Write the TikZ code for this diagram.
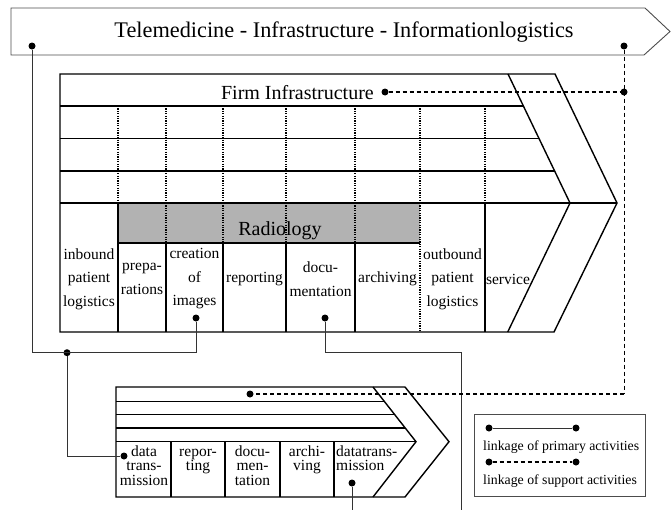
\documentclass[tikz,border=0pt]{standalone}
\usepackage{fontspec}
\setmainfont{Liberation Serif}
\usetikzlibrary{positioning}
\newcommand{\firstln}{\rule{0pt}{11pt}}% <--- same top for every small label

\begin{document}
\begin{tikzpicture}[x=1pt,y=-1pt,
    chain/.style={line width=1.4pt,line join=miter},
    frame/.style={draw=black!70,line width=0.9pt},
    dot/.style={circle,fill=black,inner sep=0pt,minimum size=7pt},
    link/.style={draw=black!80,line width=0.9pt},
    supp/.style={dashed,dash pattern=on 4pt off 3pt,line width=1.3pt},
    sep/.style={dotted,dash pattern=on 1.2pt off 1.2pt,line width=1.1pt},
    lbl/.style={font=\fontsize{15.5}{23.5}\selectfont,align=center,inner sep=0pt},
    slbl/.style={font=\fontsize{15.5}{14.5}\selectfont,align=center,inner sep=0pt,anchor=north}]
  \useasboundingbox (0,0) rectangle (671,514);

  % banner on top
  \draw[frame] (11,8) -- (645,8) -- (670,31.5) -- (644,55) -- (11,55) -- cycle;
  \node[font=\fontsize{22.3}{26}\selectfont,anchor=base] (title) at (344,37)
    {Telemedicine - Infrastructure - Informationlogistics};

  % main value chain
  \fill[gray!60] (118,203) rectangle (420,243);
  \draw[chain] (60,74) -- (555,74) -- (617,203) -- (554,332) -- (60,332) -- cycle;
  \draw[chain] (508,74) -- (570,203) -- (507.7,332);
  \draw[chain] (60,106) -- (523.4,106);
  \draw[chain] (60,138.5) -- (539,138.5);
  \draw[chain] (60,171) -- (554.6,171);
  \draw[chain] (60,203) -- (617,203);
  \draw[chain] (118,243) -- (420,243);
  \foreach \x in {118,166,223,286,355,420,485}
    \draw[sep] (\x,106) -- (\x,203);
  \foreach \x in {166,223,286,355}
    \draw[sep] (\x,203) -- (\x,243);
  \draw[sep] (420,203) -- (420,332);
  \foreach \x in {166,223,286,355}
    \draw[chain] (\x,243) -- (\x,332);
  \draw[chain] (118,203) -- (118,332);
  \draw[chain] (485,203) -- (485,332);

  \node[font=\fontsize{20}{24}\selectfont,anchor=base east,inner sep=0pt] (firm) at (374,99) {Firm Infrastructure};
  \node[font=\fontsize{20}{24}\selectfont,anchor=base,inner sep=0pt] (radio) at (280,235) {Radiology};

  % primary activities
  \node[lbl] (inb) at (89,279) {inbound\\patient\\logistics};
  \node[lbl] (prep) at (142,279) {prepa-\\rations};
  \node[lbl] (crea) at (194.5,279) {creation\\of\\images};
  \node[lbl] (rep) at (254.5,279) {reporting};
  \node[lbl] (doc) at (320.5,279) {docu-\\mentation};
  \node[lbl] (arch) at (387.5,279) {archiving};
  \node[lbl] (outb) at (452.5,279) {outbound\\patient\\logistics};
  \node[lbl] (serv) at (508,279) {service};

  % small value chain
  \draw[chain] (116,387) -- (405,387) -- (449,441.7) -- (405,497) -- (116,497) -- cycle;
  \draw[chain] (373,387) -- (416,441.7) -- (373,497);
  \draw[chain] (116,401.7) -- (384.6,401.7);
  \draw[chain] (116,414.7) -- (394.8,414.7);
  \draw[chain] (116,428) -- (405.2,428);
  \draw[chain] (116,441.7) -- (416,441.7);
  \foreach \x in {171,225,280,334}
    \draw[chain] (\x,441.7) -- (\x,497);

  \node[slbl] (sdat) at (144,445) {\firstln data\\trans-\\mission};
  \node[slbl] (srep) at (198,445) {\firstln repor-\\ting};
  \node[slbl] (sdoc) at (252.5,445) {\firstln docu-\\men-\\tation};
  \node[slbl] (sarc) at (307,445) {\firstln archi-\\ving};
  \node[slbl,align=left,anchor=north west] (sdtr) at (336,445) {\firstln datatrans-\\mission};

  % linkage dots
  \node[dot] (tl) at (32,46) {};
  \node[dot] (tr) at (624,46) {};
  \node[dot] (fl) at (385,92) {};
  \node[dot] (fr) at (624,92) {};
  \node[dot] (cr) at (196,318) {};
  \node[dot] (dc) at (325,318) {};
  \node[dot] (jn) at (67,352.7) {};
  \node[dot] (dt) at (124,456) {};
  \node[dot] (sp) at (250,394) {};
  \node[dot] (dtr) at (352,483) {};
  \coordinate (docbend) at (461,352.7);
  \coordinate (docend) at (461,510);
  \coordinate (dtrend) at (352,510);
  \coordinate (spbend) at (624,394);

  % primary linkages
  \draw[link] (tl) |- (jn.center) -| (cr);
  \draw[link] (jn) |- (dt);
  \draw[link] (dc) |- (docbend) -- (docend);
  \draw[link] (dtr) -- (dtrend);

  % support linkages
  \draw[supp] (fl) -- (fr);
  \draw[supp,line width=0.9pt] (tr) -- (spbend);
  \draw[supp] (spbend) -- (sp);

  % legend
  \draw[frame] (474,414) rectangle (645,496);
  \node[dot] (la) at (489,428) {};
  \node[dot] (lb) at (576,428) {};
  \node[dot] (lc) at (489,462) {};
  \node[dot] (ld) at (576,462) {};
  \draw[link] (la) -- (lb);
  \draw[supp] (lc) -- (ld);
  \node[font=\fontsize{13.8}{16}\selectfont,anchor=base west,inner sep=0pt] (lprim) at (483,450.5) {linkage of primary activities};
  \node[font=\fontsize{13.8}{16}\selectfont,anchor=base west,inner sep=0pt] (lsupp) at (483,484) {linkage of support activities};
\end{tikzpicture}
\end{document}
